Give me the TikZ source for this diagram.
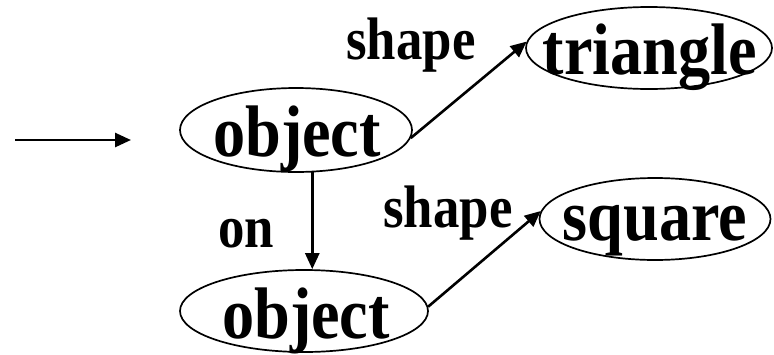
\documentclass[tikz,border=0pt]{standalone}
\usepackage{fontspec}
\newfontfamily\dfont{Liberation Serif}[FakeStretch=0.88]
\usetikzlibrary{arrows.meta,shapes.geometric}
\begin{document}
\begin{tikzpicture}[x=1pt,y=-1pt,
  oval/.style={draw,ellipse,line width=1.7pt,inner sep=0pt},
  word/.style={inner sep=0pt,anchor=base,font=\dfont\bfseries\fontsize{73}{73}\selectfont},
  lab/.style={inner sep=0pt,anchor=base,font=\dfont\bfseries\fontsize{60}{60}\selectfont},
  arr/.style={line width=2.6pt,-{Triangle[length=16pt,width=14pt]}}]
\useasboundingbox (0,0) rectangle (774,354);
% ellipses
\node[oval,minimum width=232pt,minimum height=84pt] (o1) at (296,130) {};
\node[oval,minimum width=246pt,minimum height=82pt] (tri) at (649,48) {};
\node[oval,minimum width=231pt,minimum height=82pt] (sq) at (655,219) {};
\node[oval,minimum width=248pt,minimum height=82pt] (o2) at (304,311) {};
% texts
\node[word] (t1) at (297,156) {object};
\node[word] (t2) at (650,74) {triangle};
\node[word] (t3) at (655,240) {square};
\node[word] (t4) at (306,338) {object};
% labels
\node[lab] (l1) at (411,59) {shape};
\node[lab] (l2) at (246,247) {on};
\node[lab] (l3) at (448,227) {shape};
% connectors
\coordinate (in1) at (15,140);
\coordinate (in2) at (131,140);
\draw[arr] (in1) -- (in2);
\draw[arr] (o1.-4) -- (tri.177);
\draw[arr] (o1.-69) -- (o1.-69 |- o2.north);
\draw[arr] (o2.2) -- (sq.176);
\end{tikzpicture}
\end{document}
